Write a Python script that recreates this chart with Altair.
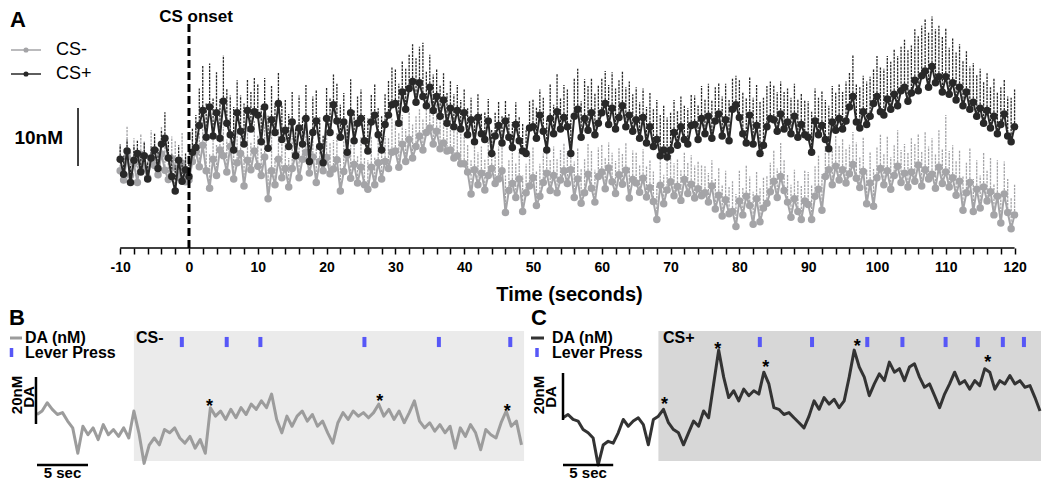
import altair as alt
import pandas as pd

FONT = "Liberation Sans"
GRAY_A = "#a4a4a7"
DARK_A = "#282828"
GRAY_B = "#9c9c9c"
DARK_C = "#333333"
RECT_B = "#ebebeb"
RECT_C = "#d7d7d7"
BLUE = "#5757f7"

# ---------------- Panel A: mean DA (nM) and upper SEM, 0.5 s bins from -10 s to 120 s
A_START = -10.0
A_STEP = 0.5

cs_plus_mean = [
    1.0, -1.6, 2.4, -3.0, 0.8, 2.0, -1.2, 1.6, -2.4, 1.2,
    2.6, -0.6, 3.6, 4.6, 1.2, -2.0, -4.5, 0.8, -2.8, -0.8,
    -2.0, 2.2, 3.0, 6.8, 9.4, 4.8, 10.0, 5.0, 9.0, 4.6,
    11.0, 7.2, 5.2, 2.6, 9.0, 5.8, 3.6, 9.4, 6.2, 9.2,
    8.6, 4.0, 10.0, 2.9, 7.8, 5.6, 10.6, 4.4, 6.0, 3.2,
    7.4, 1.6, 6.4, 3.6, 8.0, 0.6, 5.6, 7.6, 3.2, 0.4,
    8.0, 5.6, 10.4, 7.6, 4.8, 7.4, 2.2, 9.0, 4.2, 7.2,
    8.0, 4.2, 2.4, 7.4, 8.6, 5.2, 2.6, 7.0, 8.6, 10.4,
    10.6, 7.2, 12.6, 9.6, 13.2, 14.4, 10.8, 14.2, 11.8, 10.2,
    13.4, 9.4, 11.8, 8.4, 11.2, 7.2, 9.8, 6.6, 9.4, 6.2,
    9.0, 5.2, 7.8, 4.0, 8.2, 5.4, 4.4, 7.6, 2.0, 5.0,
    6.8, 3.8, 7.6, 4.8, 3.0, 7.0, 4.2, 2.4, 2.0, 6.4,
    6.6, 4.6, 8.6, 5.8, 2.6, 8.0, 5.4, 9.2, 6.2, 8.2,
    6.6, 2.0, 8.4, 9.6, 4.8, 8.0, 6.0, 9.0, 5.2, 7.2,
    9.0, 10.6, 7.0, 9.8, 6.2, 8.2, 10.2, 6.6, 8.6, 5.8,
    7.8, 4.6, 8.2, 3.8, 6.6, 3.2, 4.4, 1.6, 2.6, 1.4,
    2.6, 5.6, 3.4, 6.6, 4.4, 3.6, 6.8, 7.0, 4.4, 8.0,
    5.4, 8.4, 4.6, 7.6, 8.8, 5.0, 7.8, 4.2, 9.6, 10.4,
    8.2, 5.4, 3.8, 8.6, 3.6, 6.8, 2.0, 3.4, 6.6, 8.0,
    7.8, 5.8, 8.8, 6.2, 7.4, 5.4, 8.4, 4.8, 7.0, 5.2,
    4.8, 2.2, 7.6, 5.2, 6.8, 4.4, 2.8, 7.4, 6.0, 8.0,
    6.2, 7.6, 10.0, 11.8, 7.4, 6.4, 9.2, 7.0, 8.4, 10.6,
    11.8, 9.2, 8.6, 11.4, 9.6, 12.2, 10.2, 12.8, 13.4, 11.0,
    12.4, 14.6, 12.8, 15.4, 16.2, 13.4, 17.0, 14.2, 15.2, 12.6,
    15.2, 12.2, 14.2, 11.2, 13.4, 10.2, 12.6, 9.6, 10.8, 8.4,
    9.8, 7.2, 9.4, 6.4, 8.4, 5.4, 7.0, 8.8, 5.0, 4.0,
    6.6,
]

cs_plus_err = [
    2.5, 3.2, 2.0, 3.0, 2.6, 2.2, 3.4, 2.4, 3.0, 2.0,
    2.8, 3.6, 2.4, 4.5, 3.0, 3.8, 4.4, 2.6, 3.2, 2.8,
    3.0, 4.2, 5.6, 6.4, 7.7, 5.8, 7.5, 6.6, 7.0, 6.8,
    7.9, 6.0, 6.8, 7.4, 5.6, 6.2, 7.0, 5.4, 6.4, 5.8,
    5.4, 6.2, 5.0, 5.6, 5.8, 5.0, 5.4, 5.8, 5.2, 5.6,
    5.2, 4.8, 5.6, 4.6, 5.8, 4.4, 6.2, 5.4, 5.0, 4.8,
    5.4, 6.0, 5.2, 6.4, 5.6, 5.0, 4.8, 5.8, 5.2, 4.6,
    5.0, 4.4, 5.6, 4.8, 5.4, 4.6, 5.8, 5.2, 6.0, 6.4,
    6.0, 6.8, 5.4, 7.0, 5.8, 6.4, 7.6, 6.2, 9.3, 6.0,
    5.6, 6.2, 4.8, 5.4, 4.6, 5.2, 4.8, 5.6, 4.4, 5.0,
    4.0, 4.6, 3.8, 4.4, 4.0, 3.6, 4.8, 3.8, 4.2, 4.0,
    4.2, 4.6, 3.6, 4.0, 4.4, 3.8, 4.2, 4.8, 4.0, 4.6,
    4.8, 5.4, 4.4, 5.8, 5.2, 6.0, 5.0, 6.6, 5.4, 5.6,
    6.4, 5.8, 6.6, 7.0, 6.2, 6.8, 7.6, 6.0, 7.2, 6.6,
    6.0, 5.6, 6.8, 6.2, 7.0, 6.4, 6.0, 6.8, 5.8, 6.4,
    5.6, 6.2, 5.0, 6.2, 5.8, 6.4, 6.8, 7.0, 7.6, 6.8,
    6.4, 5.6, 6.0, 5.2, 5.8, 6.2, 5.4, 5.0, 6.0, 5.6,
    6.0, 5.6, 6.6, 5.8, 5.4, 6.8, 6.2, 7.0, 5.4, 5.0,
    6.4, 7.2, 7.8, 6.6, 8.0, 7.0, 9.0, 8.2, 7.0, 6.4,
    6.0, 6.8, 5.6, 6.4, 5.8, 6.2, 5.6, 6.6, 5.4, 6.0,
    6.2, 7.0, 5.6, 6.4, 6.0, 6.8, 7.4, 6.2, 6.6, 6.0,
    6.4, 6.8, 6.0, 7.2, 6.6, 7.0, 6.2, 7.4, 6.8, 6.0,
    7.0, 7.6, 8.0, 7.4, 8.2, 7.8, 8.6, 7.6, 8.2, 8.8,
    8.2, 8.8, 9.4, 8.6, 9.0, 9.4, 8.6, 9.2, 8.8, 9.6,
    8.4, 8.0, 7.6, 8.2, 7.4, 7.8, 7.0, 7.4, 6.8, 7.2,
    6.8, 7.2, 6.4, 7.0, 6.6, 7.2, 6.4, 6.0, 6.8, 7.6,
    6.4,
]

cs_minus_mean = [
    -1.0, -2.6, 1.4, -1.8, 0.2, -3.0, 1.8, -0.6, -2.2, 1.0,
    -0.1, -1.7, 1.9, -0.9, -2.5, 1.1, -0.5, -2.1, 0.3, -2.9,
    -2.6, 0.6, 2.2, -0.3, 3.4, -1.0, -4.0, 1.0, -1.8, 2.6,
    1.6, -1.2, 3.2, -2.4, 0.4, 2.0, -3.6, 0.8, -0.8, 2.4,
    -0.2, -1.8, 1.4, -5.8, -1.0, -3.4, 1.0, -2.2, -0.6, -3.8,
    -0.6, 1.8, -2.2, 1.0, 2.2, -1.4, 1.4, -3.0, 0.6, -1.0,
    1.3, -1.5, -0.7, 0.9, -4.5, -1.1, 1.7, -2.3, 0.1, -3.1,
    -0.4, -3.4, -4.2, -0.4, -3.4, 0.4, -2.4, 0.6, -0.6, 2.2,
    2.4, -0.4, 3.6, 0.6, 4.4, 1.2, 3.2, 5.0, 2.6, 5.6,
    6.4, 3.6, 5.8, 2.8, 3.8, 2.4, 2.6, 1.2, 1.6, 0.2,
    0.2, -1.2, -5.0, -0.8, -3.4, -1.4, -4.3, -1.8, -0.6, -3.2,
    -2.4, -1.0, -8.2, -4.4, -3.2, -5.6, -2.4, -8.0, -4.8, -3.6,
    -2.2, -7.0, -5.4, -3.0, -1.4, -4.4, -1.8, -4.8, -2.6, -1.0,
    -3.2, -0.8, -5.6, -2.4, -6.6, -4.8, -1.6, -4.0, -6.4, -2.0,
    -1.2, -4.1, -0.5, -2.9, -4.9, -1.7, -3.3, -0.9, -5.7, -2.5,
    -3.1, -4.7, -2.3, -5.5, -3.9, -6.3, -9.4, -3.5, -6.7, -4.3,
    -2.9, -5.3, -3.7, -6.1, -2.5, -4.9, -3.3, -5.7, -4.1, -5.3,
    -4.8, -6.4, -3.6, -7.6, -5.2, -8.8, -6.0, -8.4, -8.0, -10.6,
    -6.2, -8.6, -5.4, -7.0, -10.2, -5.8, -9.8, -7.4, -6.6, -4.6,
    -2.8, -5.6, -2.0, -4.4, -6.4, -9.0, -5.8, -8.0, -9.4, -6.2,
    -6.8, -9.4, -5.4, -4.2, -7.8, -2.0, -0.8, -3.4, -0.2, -2.6,
    -0.8, -3.1, -1.5, 0.1, -2.3, -3.9, -1.1, -6.7, -3.1, -7.1,
    -2.2, -0.6, -3.4, -1.0, -4.2, -1.8, -0.2, -3.0, -1.4, -3.8,
    -1.2, -2.8, 0.0, -3.6, -0.8, -2.4, -1.6, -4.0, -0.4, -3.2,
    -1.2, -3.8, -2.2, -5.2, -2.8, -7.8, -4.8, -3.0, -8.0, -4.2,
    -7.4, -3.8, -6.2, -4.6, -8.6, -5.4, -10.0, -5.0, -8.2, -11.0,
    -8.6,
]

cs_minus_err = [
    4.6, 3.8, 5.2, 4.0, 4.4, 5.6, 3.6, 4.8, 4.2, 5.0,
    4.4, 3.6, 4.8, 4.2, 5.0, 3.8, 4.6, 4.0, 5.2, 4.4,
    4.6, 4.0, 5.0, 5.8, 4.4, 5.2, 6.0, 4.8, 5.4, 4.6,
    5.0, 5.6, 4.4, 5.8, 5.2, 4.6, 5.4, 6.0, 4.8, 5.2,
    5.4, 4.8, 5.6, 5.0, 6.2, 4.6, 5.2, 5.8, 4.4, 5.0,
    5.6, 4.8, 5.2, 6.0, 4.6, 5.4, 5.0, 5.8, 4.4, 5.2,
    4.8, 5.4, 5.0, 4.6, 5.6, 5.2, 4.4, 5.8, 5.0, 4.6,
    5.2, 4.6, 5.0, 5.4, 4.8, 5.6, 5.0, 4.4, 5.2, 5.8,
    5.4, 6.0, 5.0, 5.6, 4.8, 5.8, 5.2, 4.6, 5.4, 5.0,
    4.6, 5.2, 4.8, 5.4, 5.0, 4.4, 5.6, 5.0, 4.8, 5.2,
    5.4, 4.8, 5.8, 5.0, 5.6, 4.6, 5.2, 5.8, 5.0, 5.4,
    5.6, 5.0, 6.4, 5.2, 5.8, 6.0, 5.4, 6.2, 5.0, 5.6,
    5.2, 6.0, 5.6, 5.0, 4.6, 5.4, 5.0, 5.8, 5.2, 4.8,
    5.6, 5.0, 6.2, 5.4, 6.0, 5.8, 5.2, 6.4, 5.6, 5.0,
    4.8, 5.4, 4.4, 5.0, 5.6, 4.6, 5.2, 4.8, 5.4, 5.0,
    5.2, 4.6, 5.0, 5.4, 4.8, 5.2, 5.8, 4.6, 5.0, 5.4,
    5.0, 5.6, 4.8, 5.2, 4.6, 5.4, 5.0, 5.6, 4.8, 5.2,
    4.6, 5.0, 4.4, 5.2, 4.8, 5.4, 5.0, 4.6, 5.2, 5.6,
    5.2, 4.8, 5.4, 5.0, 5.6, 4.6, 5.8, 5.2, 4.8, 5.0,
    5.4, 5.0, 5.8, 5.2, 4.8, 5.6, 5.0, 5.4, 5.8, 5.2,
    5.6, 6.0, 5.2, 5.8, 6.2, 5.4, 5.0, 5.8, 5.2, 6.0,
    5.4, 5.8, 5.0, 5.6, 6.2, 5.2, 5.8, 6.0, 5.4, 6.4,
    5.2, 5.8, 5.4, 6.0, 5.6, 5.2, 6.2, 5.6, 5.0, 6.0,
    5.8, 6.4, 5.4, 6.0, 6.6, 5.6, 6.2, 5.8, 6.4, 6.0,
    9.8, 6.2, 5.6, 6.0, 5.4, 5.8, 5.2, 6.0, 5.6, 5.0,
    5.6, 6.0, 5.2, 5.8, 5.4, 6.2, 5.0, 5.6, 5.8, 5.4,
    5.2,
]

a_tick_values = list(range(-10, 121, 2))

# ---------------- Panels B / C: single-trial DA traces (nM), 0.5 s steps from -9.5 s
T_START = -9.5
T_STEP = 0.5

b_trace = [
    10.0, 11.5, 15.0, 12.2, 10.0, 10.8, 7.2, 4.3, -6.5, 5.0,
    1.4, 4.3, -0.7, 5.7, 1.4, 3.6, 0.7, 4.3, 0.0, 11.5,
    2.0, -10.8, -3.0, 0.0, -2.9, 3.6, 2.2, 4.3, 0.0, -2.2,
    0.7, -4.3, -0.7, -6.5, 12.9, 9.3, 11.5, 7.9, 12.2, 8.6,
    12.9, 10.0, 14.4, 12.2, 15.8, 12.9, 18.7, 7.9, 2.2, 9.3,
    5.0, 9.3, 11.5, 7.2, 10.0, 5.0, 7.2, 2.2, -2.2, 6.5,
    10.8, 7.9, 11.5, 9.3, 10.8, 8.6, 10.8, 14.4, 9.3, 12.2,
    7.9, 11.5, 6.5, 10.8, 15.8, 7.2, 4.3, 6.5, 2.9, 5.7,
    2.2, 5.0, -4.3, 4.3, 0.7, 5.7, 2.2, -5.0, 3.6, 1.4,
    0.0, 6.5, 11.5, 5.0, 7.2, -2.9,
]

c_trace = [
    8.6, 10.0, 7.9, 7.2, 3.6, 2.2, 0.0, -11.5, -3.0, -1.4,
    -2.2, 2.2, 7.9, 5.0, 7.2, 8.6, 5.7, -2.9, 7.9, 9.3,
    12.2, 6.5, 3.6, 2.2, -2.9, 2.2, 7.2, 5.0, 11.5, 8.6,
    23.0, 37.4, 25.9, 17.2, 20.1, 15.8, 20.8, 18.0, 20.1, 18.7,
    28.0, 23.0, 12.9, 12.2, 10.0, 10.8, 8.6, 6.5, 4.3, 9.3,
    15.8, 12.2, 17.2, 14.4, 16.5, 12.9, 15.8, 25.9, 37.4, 30.2,
    25.9, 18.0, 23.0, 27.3, 24.4, 32.3, 28.0, 29.5, 24.4, 30.2,
    31.6, 25.9, 21.6, 23.0, 18.0, 12.9, 18.7, 23.0, 28.0, 23.0,
    24.4, 20.8, 24.4, 22.3, 29.5, 28.0, 20.8, 24.4, 23.0, 26.6,
    23.0, 24.4, 21.6, 22.3, 17.2, 11.5,
]

b_press_times = [4.7, 9.1, 12.4, 22.6, 29.9, 36.9]
c_press_times = [10.1, 15.3, 20.8, 24.3, 28.6, 31.8, 34.3, 36.4]
b_star_t = [7.4, 24.1, 36.6]
b_star_v = [14.9, 17.0, 12.8]
c_star_t = [0.6, 5.9, 10.7, 19.8, 32.8]
c_star_v = [15.7, 39.1, 31.5, 40.4, 33.6]


def a_frame(mean, err):
    assert len(mean) == len(err), (len(mean), len(err))
    return pd.DataFrame({
        "t": [A_START + A_STEP * i for i in range(len(mean))],
        "mean": mean,
        "upper": [m + e for m, e in zip(mean, err)],
    })


def one_row():
    return pd.DataFrame({"k": [0]})


def label(text, x, y, size, weight="bold", align="left", baseline="middle", angle=0):
    return alt.Chart(pd.DataFrame({"s": [text]})).mark_text(
        font=FONT, fontSize=size, fontWeight=weight, align=align,
        baseline=baseline, angle=angle, color="black"
    ).encode(text="s:N", x=alt.value(x), y=alt.value(y))


# ================= Panel A =================
A_W, A_H = 1032, 240
xA = alt.Scale(domain=[-26.16, 123.84], nice=False, zero=False)
yA = alt.Scale(domain=[-14.31, 27.07], nice=False, zero=False)

axisA = alt.Axis(
    values=a_tick_values,
    labelExpr="datum.value % 10 === 0 ? '' + datum.value : ''",
    domain=False, grid=False, ticks=True, tickSize=6, tickWidth=1.5,
    tickColor="black", labelFont=FONT, labelFontSize=14, labelFontWeight="bold",
    labelColor="black", labelPadding=6, labelOverlap=False, labelFlush=False,
    title="Time (seconds)", titleFont=FONT, titleFontSize=20, titleFontWeight="bold",
    titleColor="black", titleX=560, titleY=52, titleAlign="center",
    titleBaseline="alphabetic",
)


def XA(field="t:Q"):
    return alt.X(field, scale=xA, axis=axisA)


axis_line = alt.Chart(pd.DataFrame({"t": [-10.0], "t2": [120.0]})).mark_rule(
    color="black", strokeWidth=1.5
).encode(x=XA(), x2="t2:Q", y=alt.value(A_H))


def series_layers(df, color):
    enc = dict(x=XA(), y=alt.Y("mean:Q", scale=yA, axis=None))
    err = alt.Chart(df).mark_rule(color=color, strokeWidth=1.3, strokeDash=[2.5, 1.0]).encode(
        y2="upper:Q", **enc)
    line = alt.Chart(df).mark_line(color=color, strokeWidth=2).encode(**enc)
    pts = alt.Chart(df).mark_circle(color=color, size=56, opacity=1).encode(**enc)
    return [err, line, pts]


onset = alt.Chart(pd.DataFrame({"t": [0.0]})).mark_rule(
    color="black", strokeWidth=3, strokeDash=[8, 4]
).encode(x=XA(), y=alt.value(16), y2=alt.value(A_H))

scale_bar_A = alt.Chart(pd.DataFrame({"t": [-16.13]})).mark_rule(
    color="black", strokeWidth=1.5
).encode(x=XA(), y=alt.Y(datum=-0.17, scale=yA, axis=None), y2=alt.Y2(datum=9.83))

legend_A = []
for yy, col, name in [(42, GRAY_A, "CS-"), (66, DARK_A, "CS+")]:
    legend_A.append(alt.Chart(one_row()).mark_rule(color=col, strokeWidth=1.5).encode(
        x=alt.value(2), x2=alt.value(32), y=alt.value(yy)))
    legend_A.append(alt.Chart(one_row()).mark_circle(color=col, size=26, opacity=1).encode(
        x=alt.value(17), y=alt.value(yy)))
    legend_A.append(label(name, 47, yy, 18, weight="normal"))

top = alt.layer(
    axis_line,
    *series_layers(a_frame(cs_minus_mean, cs_minus_err), GRAY_A),
    *series_layers(a_frame(cs_plus_mean, cs_plus_err), DARK_A),
    onset,
    scale_bar_A,
    *legend_A,
    label("A", 1, 2, 22, baseline="top"),
    label("CS onset", 187, 1, 17, align="center", baseline="top"),
    label("10nM", 54, 130, 19, align="right"),
).properties(width=A_W, height=A_H)

# ================= Panels B and C =================
P_H = 173
yB = alt.Scale(domain=[-18.30, 55.32], nice=False, zero=False)


def trace_panel(trace, presses, star_t, star_v, letter, cs_text, color, rect_color,
                width, xdom, rect_end, vbar_t, vbar_v0, leg_x0, leg_x1, leg_text_x,
                leg_tick_x, cs_x):
    xs = alt.Scale(domain=xdom, nice=False, zero=False)
    X = lambda f: alt.X(f, scale=xs, axis=None)
    tdf = pd.DataFrame({"t": [T_START + T_STEP * k for k in range(len(trace))], "v": trace})
    rect = alt.Chart(one_row()).mark_rect(color=rect_color).encode(
        x=alt.X(datum=0.0, scale=xs, axis=None), x2=alt.X2(datum=rect_end),
        y=alt.Y(datum=-9.8, scale=yB, axis=None), y2=alt.Y2(datum=45.5))
    line = alt.Chart(tdf).mark_line(color=color, strokeWidth=3, strokeJoin="round").encode(
        x=X("t:Q"), y=alt.Y("v:Q", scale=yB, axis=None))
    press = alt.Chart(pd.DataFrame({"t": presses})).mark_rule(color=BLUE, strokeWidth=4).encode(
        x=X("t:Q"), y=alt.Y(datum=38.7, scale=yB, axis=None), y2=alt.Y2(datum=43.0))
    stars = alt.Chart(pd.DataFrame({"t": star_t, "v": star_v})).mark_text(
        text="*", font=FONT, fontSize=18, fontWeight="bold", align="center",
        baseline="middle", dy=4, color="black"
    ).encode(x=X("t:Q"), y=alt.Y("v:Q", scale=yB, axis=None))
    vbar = alt.Chart(one_row()).mark_rule(color="black", strokeWidth=2.5).encode(
        x=alt.X(datum=vbar_t, scale=xs, axis=None),
        y=alt.Y(datum=vbar_v0, scale=yB, axis=None), y2=alt.Y2(datum=vbar_v0 + 20))
    hbar = alt.Chart(one_row()).mark_rule(color="black", strokeWidth=2.5).encode(
        x=alt.X(datum=-9.5, scale=xs, axis=None), x2=alt.X2(datum=-4.5),
        y=alt.Y(datum=-11.49, scale=yB, axis=None))
    sec = alt.Chart(pd.DataFrame({"s": ["5 sec"]})).mark_text(
        font=FONT, fontSize=15, fontWeight="bold", align="center", baseline="middle",
        color="black"
    ).encode(text="s:N", x=alt.X(datum=-7.0, scale=xs, axis=None),
             y=alt.Y(datum=-14.89, scale=yB, axis=None))
    leg_line = alt.Chart(one_row()).mark_rule(color=color, strokeWidth=3).encode(
        x=alt.value(leg_x0), x2=alt.value(leg_x1), y=alt.value(30))
    leg_tick = alt.Chart(one_row()).mark_rule(color=BLUE, strokeWidth=3.5).encode(
        x=alt.value(leg_tick_x), y=alt.value(40), y2=alt.value(49))
    return alt.layer(
        rect, line, press, stars, vbar, hbar, sec, leg_line, leg_tick,
        label(letter, 0, 0, 22, baseline="top"),
        label("DA (nM)", leg_text_x, 29.5, 16),
        label("Lever Press", leg_text_x, 45, 16),
        label(cs_text, cs_x, 30, 16),
        label("20nM", 8, 87, 15, align="center", angle=270),
        label("DA", 19.5, 89, 15, align="center", angle=270),
    ).properties(width=width, height=P_H)


panel_b = trace_panel(b_trace, b_press_times, b_star_t, b_star_v, "B", "CS-", GRAY_B, RECT_B,
                      518, [-12.245, 38.539], 38.25, -9.6, 5.96, 1, 13, 16, 2.5, 127)
panel_c = trace_panel(c_trace, c_press_times, c_star_t, c_star_v, "C", "CS+", DARK_C, RECT_C,
                      510, [-12.687, 38.1], 38.1, -9.5, 7.66, 0, 13, 21, 6, 132)

bottom = alt.hconcat(panel_b, panel_c, spacing=4, bounds="flush")

chart = alt.vconcat(top, bottom, spacing=60, bounds="flush").properties(
    padding=0, background="white"
).configure_view(stroke=None)

chart.save("out.html", embed_options={"renderer": "svg", "actions": False})
